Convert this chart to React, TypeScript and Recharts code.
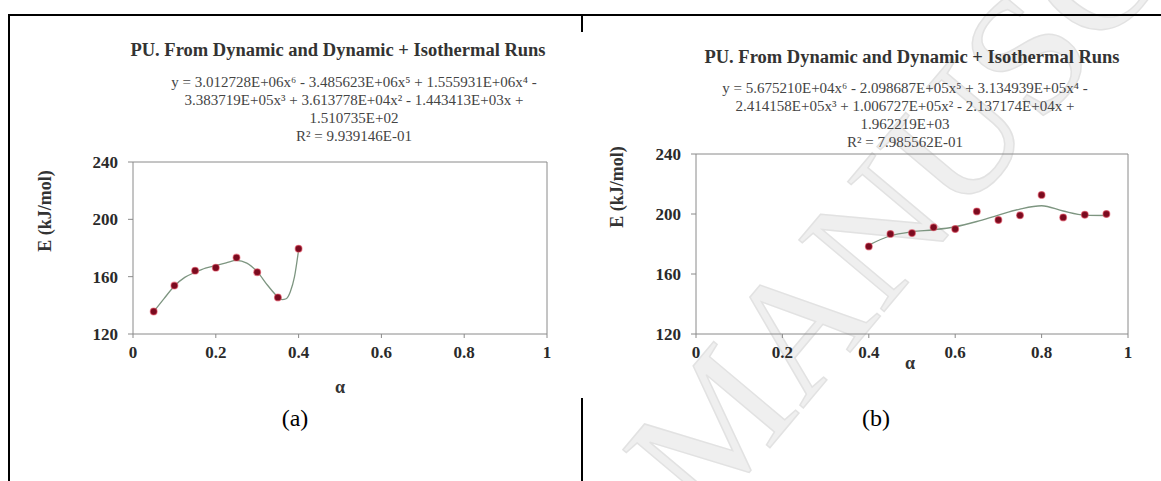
import React from 'react';
import {
    ComposedChart,
    Scatter,
    Line,
    XAxis,
    YAxis,
    ReferenceLine
} from 'recharts';

// tick values
const xTicks = [0, 0.2, 0.4, 0.6, 0.8, 1];
const yTicks = [120, 160, 200, 240];

// (a) measured points
const alphaA = [0.05, 0.1, 0.15, 0.2, 0.25, 0.3, 0.35, 0.4];
const energyA = [135.7, 153.8, 164.2, 166.3, 173.3, 163.1, 145.5, 179.5];
// (a) fitted curve
const trendAlphaA = [0.05, 0.075, 0.1, 0.125, 0.15, 0.175, 0.2, 0.225, 0.25, 0.275, 0.3, 0.325, 0.35, 0.36, 0.37, 0.38, 0.39, 0.4];
const trendA = [135.6, 144.7, 153.5, 159.5, 163.0, 166.0, 167.8, 169.6, 171.3, 169.5, 163.5, 154.0, 145.9, 144.0, 144.6, 149.5, 159.8, 178.7];

// (b) measured points
const alphaB = [0.4, 0.45, 0.5, 0.55, 0.6, 0.65, 0.7, 0.75, 0.8, 0.85, 0.9, 0.95];
const energyB = [178.4, 186.7, 187.3, 191.1, 190.0, 201.7, 196.0, 199.1, 212.7, 197.7, 199.5, 200.0];
// (b) fitted curve
const trendAlphaB = [0.4, 0.45, 0.5, 0.55, 0.6, 0.65, 0.7, 0.75, 0.8, 0.85, 0.9, 0.95];
const trendB = [179.3, 185.5, 188.2, 189.5, 191.5, 195.0, 199.3, 203.3, 205.5, 202.0, 199.3, 199.0];

const titleText = 'PU. From Dynamic and Dynamic + Isothermal Runs';
const eqA = [
    'y = 3.012728E+06x⁶ - 3.485623E+06x⁵ + 1.555931E+06x⁴ -',
    '3.383719E+05x³ + 3.613778E+04x² - 1.443413E+03x +',
    '1.510735E+02',
    'R² = 9.939146E-01'
];
const eqB = [
    'y = 5.675210E+04x⁶ - 2.098687E+05x⁵ + 3.134939E+05x⁴ -',
    '2.414158E+05x³ + 1.006727E+05x² - 2.137174E+04x +',
    '1.962219E+03',
    'R² = 7.985562E-01'
];

const pointsA = alphaA.map((a, i) => ({ x: a, y: energyA[i] }));
const curveA = trendAlphaA.map((a, i) => ({ x: a, y: trendA[i] }));
const pointsB = alphaB.map((a, i) => ({ x: a, y: energyB[i] }));
const curveB = trendAlphaB.map((a, i) => ({ x: a, y: trendB[i] }));

const SERIF = '"Liberation Serif", "Times New Roman", serif';
const FRAME = '#8a8a8a';
const tickStyle = { fontSize: 17, fontWeight: 'bold', fontFamily: SERIF, fill: '#2a2a2a' };

const Dot = (props: any) => {
    const { cx, cy } = props;
    if (cx == null || cy == null) return null;
    return <circle cx={cx} cy={cy} r={3.4} fill="#7a0b1f" stroke="rgba(225,70,90,0.55)" strokeWidth={1.2} />;
};

const TextAt = ({ cx, cy, text, size, bold = false, color = '#333', w = 460 }: any) => (
    <div style={{
        position: 'absolute',
        left: cx - w / 2,
        width: w,
        top: cy - size / 2,
        lineHeight: `${size}px`,
        fontSize: size,
        fontFamily: SERIF,
        fontWeight: bold ? 'bold' : 'normal',
        color,
        textAlign: 'center',
        whiteSpace: 'nowrap'
    }}>{text}</div>
);

const VertText = ({ cx, cy, text, size }: any) => (
    <div style={{
        position: 'absolute',
        left: cx - 60,
        width: 120,
        top: cy - size / 2,
        lineHeight: `${size}px`,
        fontSize: size,
        fontFamily: SERIF,
        fontWeight: 'bold',
        color: '#333',
        textAlign: 'center',
        whiteSpace: 'nowrap',
        transform: 'rotate(-90deg)'
    }}>{text}</div>
);

const Panel = ({ points, curve, yAxisWidth, plotWidth, top }: any) => (
    <ComposedChart
        width={yAxisWidth + plotWidth + 33}
        height={400}
        margin={{ top, right: 33, bottom: 36, left: 0 }}
    >
        <XAxis
            type="number"
            dataKey="x"
            domain={[0, 1]}
            ticks={xTicks}
            height={30}
            stroke={FRAME}
            tickSize={4}
            tickMargin={8}
            tick={tickStyle}
            allowDataOverflow
        />
        <YAxis
            type="number"
            dataKey="y"
            domain={[120, 240]}
            ticks={yTicks}
            width={yAxisWidth}
            stroke={FRAME}
            tickSize={5}
            tickMargin={10}
            tick={tickStyle}
            allowDataOverflow
        />
        <ReferenceLine y={240} stroke={FRAME} />
        <ReferenceLine x={1} stroke={FRAME} />
        <Line
            data={curve}
            dataKey="y"
            type="monotone"
            stroke="#7d9580"
            strokeWidth={1.3}
            dot={false}
            activeDot={false}
            isAnimationActive={false}
        />
        <Scatter data={points} dataKey="y" shape={<Dot />} isAnimationActive={false} />
    </ComposedChart>
);

export default function App() {
    return (
        <div style={{ position: 'absolute', left: 0, top: 0, width: 1161, height: 481, background: '#fff', overflow: 'hidden' }}>
            {/* watermark */}
            <svg width={1161} height={481} style={{ position: 'absolute', left: 0, top: 0 }}>
                <text
                    x={0}
                    y={0}
                    transform="translate(705,525) rotate(-50)"
                    fontFamily={SERIF}
                    fontSize={170}
                    fill="#efefef"
                    stroke="#e2e2e2"
                    strokeWidth={1.5}
                >
                    MANUSCRIPT
                </text>
            </svg>

            {/* table borders */}
            <div style={{ position: 'absolute', left: 9, top: 14, width: 1152, height: 2, background: '#000' }} />
            <div style={{ position: 'absolute', left: 8, top: 14, width: 2, height: 467, background: '#000' }} />
            <div style={{ position: 'absolute', left: 581, top: 14, width: 2, height: 18, background: '#000' }} />
            <div style={{ position: 'absolute', left: 581, top: 398, width: 1.5, height: 83, background: '#000' }} />

            <div style={{ position: 'absolute', left: 0, top: 0 }}>
                <Panel points={pointsA} curve={curveA} yAxisWidth={133} plotWidth={414} top={162} />
            </div>
            <div style={{ position: 'absolute', left: 580, top: 0 }}>
                <Panel points={pointsB} curve={curveB} yAxisWidth={116} plotWidth={432} top={154} />
            </div>

            <TextAt cx={338} cy={50} text={titleText} size={18.5} bold />
            {eqA.map((t, i) => (
                <TextAt key={`ea${i}`} cx={354} cy={82 + i * 18} text={t} size={15} color="#444" />
            ))}
            <TextAt cx={912} cy={57} text={titleText} size={18.5} bold />
            {eqB.map((t, i) => (
                <TextAt key={`eb${i}`} cx={905} cy={88 + i * 18} text={t} size={15} color="#444" />
            ))}

            <VertText cx={45} cy={211} text="E (kJ/mol)" size={18} />
            <VertText cx={617} cy={187} text="E (kJ/mol)" size={18} />
            <TextAt cx={340} cy={387} text="α" size={18} bold w={40} />
            <TextAt cx={910} cy={363} text="α" size={18} bold w={40} />

            <TextAt cx={295} cy={418} text="(a)" size={24} color="#000" w={80} />
            <TextAt cx={876} cy={418} text="(b)" size={24} color="#000" w={80} />
        </div>
    );
}
